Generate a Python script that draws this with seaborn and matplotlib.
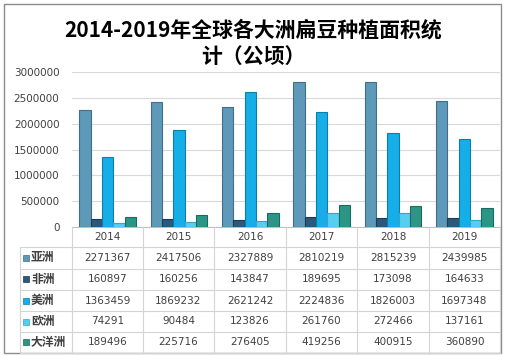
import matplotlib
matplotlib.use("Agg")
import matplotlib.pyplot as plt
import seaborn as sns
import pandas as pd
from matplotlib.lines import Line2D
from matplotlib.patches import Rectangle

years = ["2014", "2015", "2016", "2017", "2018", "2019"]
continents = ["亚洲", "非洲", "美洲", "欧洲", "大洋洲"]
asia = [2271367, 2417506, 2327889, 2810219, 2815239, 2439985]
africa = [160897, 160256, 143847, 189695, 173098, 164633]
america = [1363459, 1869232, 2621242, 2224836, 1826003, 1697348]
europe = [74291, 90484, 123826, 261760, 272466, 137161]
oceania = [189496, 225716, 276405, 419256, 400915, 360890]
yticks = [0, 500000, 1000000, 1500000, 2000000, 2500000, 3000000]
title = "2014-2019年全球各大洲扁豆种植面积统\n计（公顷）"

series = [asia, africa, america, europe, oceania]
colors = ["#5e99b9", "#2d587a", "#16aee6", "#55cef0", "#2b9686"]
edges = ["#3f6f8a", "#1d3c55", "#0a7fae", "#2fa8cc", "#1b6b5e"]

sns.set_theme(style="white")
plt.rcParams["font.family"] = ["Noto Sans CJK SC", "DejaVu Sans"]

rows = []
for c, vals in zip(continents, series):
    for y, v in zip(years, vals):
        rows.append({"year": y, "continent": c, "value": v})
df = pd.DataFrame(rows)

W, H = 507, 356
fig = plt.figure(figsize=(W / 100, H / 100), dpi=100)
fig.patch.set_facecolor("white")

x0, x1, ytop, ybot = 72, 500, 72, 227
ax = fig.add_axes([x0 / W, (H - ybot) / H, (x1 - x0) / W, (ybot - ytop) / H])
sns.barplot(data=df, x="year", y="value", hue="continent", order=years,
            hue_order=continents, palette=colors, width=0.79, gap=0,
            saturation=1, ax=ax, legend=False, zorder=3)
for cont, ec in zip(ax.containers, edges):
    for bar in cont:
        bar.set_edgecolor(ec)
        bar.set_linewidth(0.8)

ax.set_xlim(-0.5, 5.5)
ax.set_ylim(0, 3000000)
ax.set_yticks(yticks)
ax.set_yticklabels([str(t) for t in yticks], color="#404040", fontsize=7.5,
                   family="DejaVu Sans")
ax.tick_params(axis="y", length=0, pad=9)
ax.set_xticks([])
ax.set_xlabel("")
ax.set_ylabel("")
ax.yaxis.grid(True, color="#d9d9d9", linewidth=0.8, zorder=0)
ax.set_axisbelow(True)
for s in ["left", "right", "top"]:
    ax.spines[s].set_visible(False)
ax.spines["bottom"].set_color("#bfbfbf")
ax.spines["bottom"].set_linewidth(0.8)

# overlay axes in pixel coordinates for table, title and border
ov = fig.add_axes([0, 0, 1, 1], zorder=5)
ov.set_xlim(0, W)
ov.set_ylim(H, 0)
ov.axis("off")
ov.patch.set_alpha(0)

gc = "#d4d4d4"
colx = [72, 143, 214, 286, 357, 429, 500]
rowy = [247, 268.5, 290, 311, 332, 352.5]
for xv in colx:
    ov.add_line(Line2D([xv, xv], [227, 352.5], color=gc, lw=0.8))
ov.add_line(Line2D([20, 20], [247, 352.5], color=gc, lw=0.8))
for yv in rowy:
    ov.add_line(Line2D([20, 500], [yv, yv], color=gc, lw=0.8))

for i, yr in enumerate(years):
    cx = (colx[i] + colx[i + 1]) / 2
    ov.text(cx, 237, yr, ha="center", va="center", fontsize=7.5,
            color="#404040", family="DejaVu Sans")
for r, (cont, vals) in enumerate(zip(continents, series)):
    cy = (rowy[r] + rowy[r + 1]) / 2
    ov.add_patch(Rectangle((23, cy - 3), 6, 6, facecolor=colors[r],
                           edgecolor=edges[r], lw=0.5))
    ov.text(31, cy, cont, ha="left", va="center", fontsize=8.5,
            color="#404040", fontweight="bold")
    for i, v in enumerate(vals):
        cx = (colx[i] + colx[i + 1]) / 2
        ov.text(cx, cy, str(v), ha="center", va="center", fontsize=7.5,
                color="#404040", family="DejaVu Sans")

# border
ov.add_patch(Rectangle((3.5, 4), 497.5, 348.5, fill=False, edgecolor="#8c8c8c",
                       lw=1))

lines = title.split("\n")
ov.text(253, 30, lines[0], ha="center", va="center", fontsize=15,
        color="black", fontweight="bold")
ov.text(253, 56, lines[1], ha="center", va="center", fontsize=15,
        color="black", fontweight="bold")

fig.savefig("out.png", dpi=100)
